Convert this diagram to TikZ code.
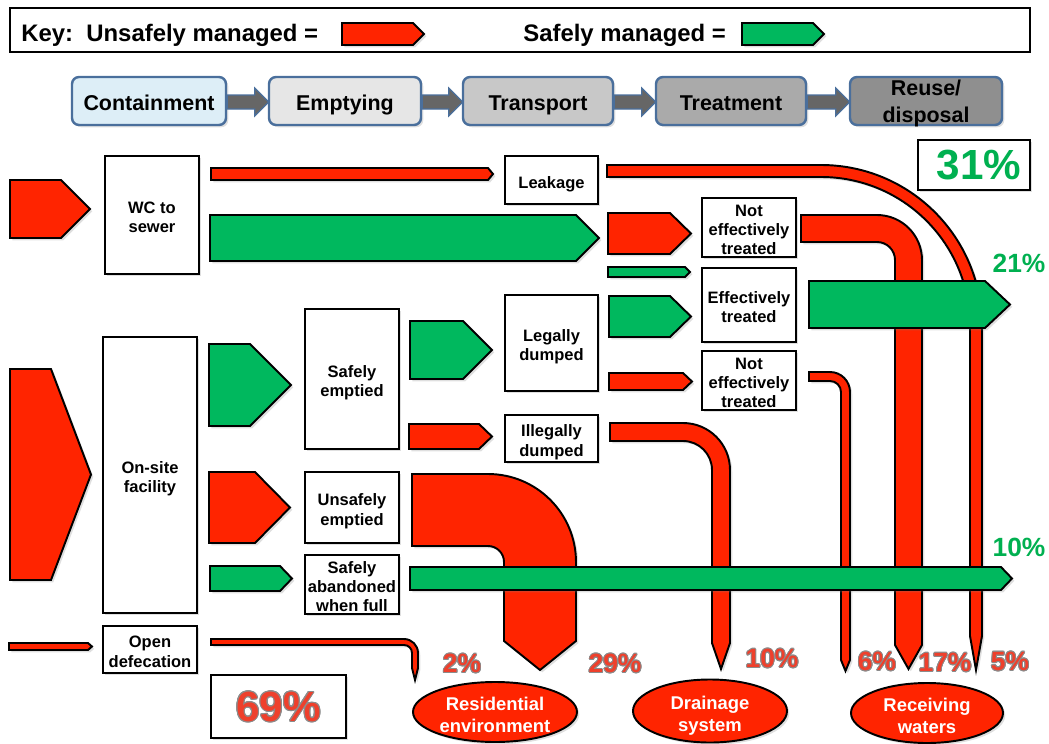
\documentclass[tikz,border=0pt]{standalone}
\usepackage{fontspec}
\setmainfont{Liberation Sans}
\usepackage[copies]{contour}
\usetikzlibrary{positioning,calc,shapes.geometric,shadows}
\newlength\pxu
\setlength\pxu{0.02cm}
\contourlength{0.5pt}
\definecolor{unsafe}{RGB}{255,36,0}
\definecolor{safe}{RGB}{0,184,94}
\definecolor{pctred}{RGB}{238,64,44}
\definecolor{pctgreen}{RGB}{0,176,80}
\definecolor{stageline}{RGB}{74,111,156}
\definecolor{stA}{RGB}{221,238,247}
\definecolor{stB}{RGB}{230,230,230}
\definecolor{stC}{RGB}{200,200,200}
\definecolor{stD}{RGB}{170,170,170}
\definecolor{stE}{RGB}{143,143,143}
\tikzset{
  shad/.style={drop shadow={opacity=0.25, shadow xshift=1.3pt, shadow yshift=-1.3pt}},
  bx/.style 2 args={rectangle, draw=black, fill=white, line width=1.1pt, shad, align=center, inner sep=0pt, text depth=0pt, minimum width=#1\pxu, minimum height=#2\pxu, font=\bfseries\fontsize{9.4}{11}\selectfont},
  t1/.style={text height=9.2pt},
  t2/.style={text height=20.2pt},
  t3/.style={text height=31.2pt},
  stage/.style 2 args={rectangle, rounded corners=4pt, draw=stageline, line width=1.4pt, fill=#2, shad, align=center, inner sep=0pt, text depth=0pt, minimum width=#1\pxu, minimum height=48\pxu, font=\bfseries\fontsize{12.2}{15.3}\selectfont},
  st1/.style={text height=11.35pt},
  stagearr/.style={fill=black!60, draw=stageline, line width=0.7pt},
  bad/.style={fill=unsafe, draw=black, line width=1.1pt, shad},
  good/.style={fill=safe, draw=black, line width=1.1pt, shad},
  sink/.style 2 args={ellipse, fill=unsafe, draw=black, line width=1.1pt, shad, align=center, inner sep=0pt, text depth=0pt, text height=23.4pt, minimum width=#1\pxu, minimum height=#2\pxu, text=white, font=\bfseries\fontsize{10.5}{12.5}\selectfont},
  pct/.style={font=\bfseries\fontsize{15}{18}\selectfont},
  big/.style={font=\bfseries\fontsize{24}{28}\selectfont}
}
% block arrow: style, x1, y1, x2, y2, start of tip
\newcommand\flowarr[6]{\draw[#1] (#2,#3) -- (#6,#3) -- (#4,{(#3+#5)/2}) -- (#6,#5) -- (#2,#5) -- cycle;}
\newcommand\stagelink[2]{\draw[stagearr] ($(#1.east)+(0,-6)$) -- ($(#2.west)+(-13,-6)$) -- ($(#2.west)+(-13,-13)$) -- ($(#2.west)+(1,1)$) -- ($(#2.west)+(-13,15)$) -- ($(#2.west)+(-13,8)$) -- ($(#1.east)+(0,8)$) -- cycle;}

\begin{document}
\begin{tikzpicture}[x=0.02cm, y=-0.02cm]
	\useasboundingbox (0,0) rectangle (1049,744);
	% key
	\node[draw, line width=1.4pt, inner sep=0pt, minimum width=1020\pxu, minimum height=44\pxu] (key) at (520,30) {};
	\node[anchor=west, inner sep=0pt, font=\bfseries\fontsize{13.6}{16}\selectfont] (keyu) at (21,35) {Key:\ \ Unsafely managed =};
	\node[anchor=west, inner sep=0pt, font=\bfseries\fontsize{13.6}{16}\selectfont] (keys) at (523,35) {Safely managed =};
	\flowarr{bad}{342}{23}{424}{45}{413}
	\flowarr{good}{742}{23}{824}{45}{813}
	% stages
	\node[stage={154}{stA}, st1] (cont) at (149,101) {Containment};
	\node[stage={152}{stB}, st1] (empt) at (345,101) {Emptying};
	\node[stage={150}{stC}, st1] (trans) at (538,101) {Transport};
	\node[stage={150}{stD}, st1] (treat) at (731,101) {Treatment};
	\node[stage={152}{stE}] (reuse) at (926,101) {Reuse/\\disposal};
	\stagelink{cont}{empt}
	\stagelink{empt}{trans}
	\stagelink{trans}{treat}
	\stagelink{treat}{reuse}
	%
	\draw[bad] (607,165) -- (821,165) arc[start angle=-90, end angle=0, radius=161] -- (982,636) -- (976,670) -- (970,636) -- (970,326) arc[start angle=0, end angle=-90, radius=149] -- (607,177) -- cycle;
	\draw[bad] (801,215) -- (877,215) arc[start angle=-90, end angle=0, radius=45] -- (922,645) -- (908.5,669) -- (895,645) -- (895,260) arc[start angle=0, end angle=-90, radius=18] -- (801,242) -- cycle;
	\draw[bad] (809,372) -- (830,372) arc[start angle=-90, end angle=0, radius=20] -- (850,660) -- (845.5,671) -- (841,660) -- (841,392) arc[start angle=0, end angle=-90, radius=11] -- (809,381) -- cycle;
	\draw[bad] (610,423) -- (683,423) arc[start angle=-90, end angle=0, radius=47] -- (730,643) -- (721,669) -- (712,643) -- (712,470) arc[start angle=0, end angle=-90, radius=29] -- (610,441) -- cycle;
	\draw[bad] (412,474) -- (488,474) arc[start angle=-90, end angle=0, radius=88] -- (576,641) -- (540,670) -- (504,641) -- (504,562) arc[start angle=0, end angle=-90, radius=16] -- (412,546) -- cycle;
	\draw[bad] (211,639) -- (404,639) arc[start angle=-90, end angle=0, radius=14] -- (418,668) -- (415,680) -- (412,668) -- (412,653) arc[start angle=0, end angle=-90, radius=8] -- (211,645) -- cycle;
	%
	\flowarr{bad}{10}{180}{90}{238}{61}
	\flowarr{bad}{10}{369}{91}{580}{51}
	\flowarr{bad}{9}{643}{92}{650}{88}
	\flowarr{bad}{211}{168}{493}{180}{488}
	\flowarr{good}{210}{215}{599}{261}{576}
	\flowarr{bad}{608}{213}{691}{254}{670}
	\flowarr{good}{608}{267}{690}{277}{685}
	\flowarr{good}{609}{296}{691}{337}{670}
	\flowarr{bad}{609}{373}{692}{390}{683}
	\flowarr{good}{209}{344}{291}{426}{250}
	\flowarr{good}{410}{321}{492}{379}{463}
	\flowarr{bad}{409}{424}{492}{449}{479}
	\flowarr{bad}{209}{472}{290}{543}{255}
	\flowarr{good}{210}{566}{292}{591}{280}
	\flowarr{good}{809}{281}{1010}{328}{985}
	\flowarr{good}{410}{567}{1012}{590}{1001}
	%
	\node[bx={94}{118}, t2] (wc) at (152,215) {WC to\\sewer};
	\node[bx={93}{48}, t1] (leak) at (551.5,180) {Leakage};
	\node[bx={94}{59}, t3] (net1) at (749,227.5) {Not\\effectively\\treated};
	\node[bx={94}{74}, t2] (eff) at (749,305) {Effectively\\treated};
	\node[bx={94}{59}, t3] (net2) at (749,380.5) {Not\\effectively\\treated};
	\node[bx={93}{96}, t2] (legal) at (551.5,343) {Legally\\dumped};
	\node[bx={93}{47}, t2] (illegal) at (551.5,438.5) {Illegally\\dumped};
	\node[bx={94}{276}, t2] (onsite) at (150,475) {On-site\\facility};
	\node[bx={94}{140}, t2] (safeemp) at (352,379) {Safely\\emptied};
	\node[bx={94}{71}, t2] (unsafeemp) at (352,507.5) {Unsafely\\emptied};
	\node[bx={94}{59}, t3] (aband) at (352,584.5) {Safely\\abandoned\\when full};
	\node[bx={94}{47}, t2] (opendef) at (150,649.5) {Open\\defecation};
	\node[bx={135}{63}, big, text=pctred] (p69) at (278.5,706.5) {\contour{black!45}{69\%}};
	\node[bx={112}{50}, big, text=pctgreen] (p31) at (974,165) {\hspace{10\pxu}31\%};
	%
	\node[sink={164}{60}] (res) at (495,712) {Residential\\environment};
	\node[sink={154}{63}] (drain) at (710,711) {Drainage\\system};
	\node[sink={152}{60}] (recv) at (927,713) {Receiving\\waters};
	%
	\node[pct, text=pctred] (l2) at (462,664) {\contour{black!45}{2\%}};
	\node[pct, text=pctred] (l29) at (615,664) {\contour{black!45}{29\%}};
	\node[pct, text=pctred] (l10) at (772,659) {\contour{black!45}{10\%}};
	\node[pct, text=pctred] (l6) at (877,662) {\contour{black!45}{6\%}};
	\node[pct, text=pctred] (l17) at (945,663) {\contour{black!45}{17\%}};
	\node[pct, text=pctred] (l5) at (1010,662) {\contour{black!45}{5\%}};
	\node[pct, text=pctgreen] (l21) at (1019,263) {21\%};
	\node[pct, text=pctgreen] (l10g) at (1019,547) {10\%};
\end{tikzpicture}
\end{document}
